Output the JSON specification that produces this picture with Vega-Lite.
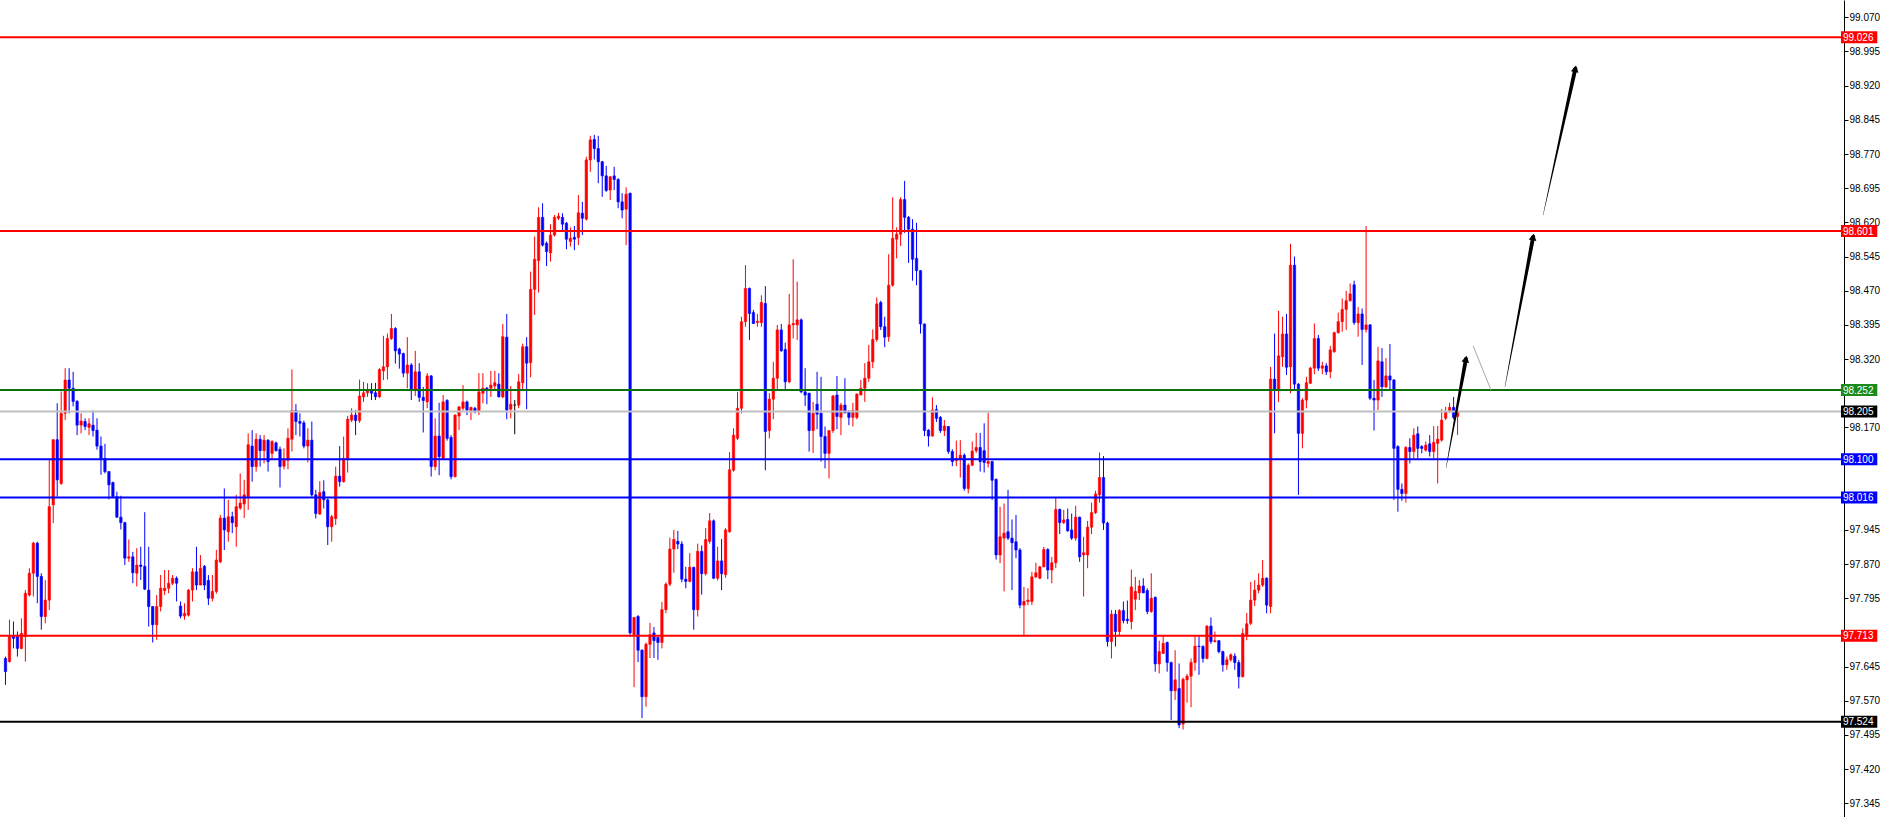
{
"$schema":"https://vega.github.io/schema/vega-lite/v6.json",
"width":1844,"height":817,
"autosize":{"type":"none"},
"padding":{"left":0,"top":0,"bottom":0,"right":38},
"background":"#ffffff",
"config":{"view":{"stroke":null},
 "axisY":{"orient":"right","title":null,"format":".3f","grid":false,"tickSize":4,"labelPadding":1,"labelFont":"Liberation Sans","labelFontSize":10,"labelColor":"#000000","tickColor":"#000000","domainColor":"#000000","domainWidth":1,"labelOverlap":false,"labelBound":false,"labelFlush":false,"zindex":0}},
"datasets":{
"candles":[
{"i":0,"o":97.663,"h":97.667,"l":97.605,"c":97.634},
{"i":1,"o":97.656,"h":97.748,"l":97.654,"c":97.711},
{"i":2,"o":97.711,"h":97.744,"l":97.685,"c":97.707},
{"i":3,"o":97.711,"h":97.722,"l":97.667,"c":97.685},
{"i":4,"o":97.685,"h":97.751,"l":97.683,"c":97.718},
{"i":5,"o":97.711,"h":97.813,"l":97.656,"c":97.806},
{"i":6,"o":97.802,"h":97.861,"l":97.799,"c":97.850},
{"i":7,"o":97.850,"h":97.919,"l":97.799,"c":97.916},
{"i":8,"o":97.916,"h":97.919,"l":97.784,"c":97.843},
{"i":9,"o":97.843,"h":97.850,"l":97.726,"c":97.755},
{"i":10,"o":97.755,"h":97.835,"l":97.740,"c":97.791},
{"i":11,"o":97.791,"h":98.099,"l":97.769,"c":97.996},
{"i":12,"o":98.000,"h":98.144,"l":97.960,"c":98.143},
{"i":13,"o":98.143,"h":98.223,"l":98.018,"c":98.055},
{"i":14,"o":98.047,"h":98.249,"l":98.044,"c":98.201},
{"i":15,"o":98.201,"h":98.300,"l":98.186,"c":98.274},
{"i":16,"o":98.274,"h":98.300,"l":98.201,"c":98.256},
{"i":17,"o":98.256,"h":98.292,"l":98.216,"c":98.227},
{"i":18,"o":98.227,"h":98.230,"l":98.153,"c":98.175},
{"i":19,"o":98.175,"h":98.201,"l":98.157,"c":98.184},
{"i":20,"o":98.183,"h":98.190,"l":98.164,"c":98.172},
{"i":21,"o":98.170,"h":98.190,"l":98.153,"c":98.178},
{"i":22,"o":98.175,"h":98.207,"l":98.150,"c":98.163},
{"i":23,"o":98.164,"h":98.190,"l":98.121,"c":98.129},
{"i":24,"o":98.129,"h":98.150,"l":98.066,"c":98.102},
{"i":25,"o":98.102,"h":98.134,"l":98.069,"c":98.073},
{"i":26,"o":98.073,"h":98.074,"l":98.012,"c":98.044},
{"i":27,"o":98.049,"h":98.051,"l":98.015,"c":98.018},
{"i":28,"o":98.018,"h":98.029,"l":97.971,"c":97.973},
{"i":29,"o":97.973,"h":98.020,"l":97.946,"c":97.961},
{"i":30,"o":97.961,"h":97.963,"l":97.868,"c":97.883},
{"i":31,"o":97.883,"h":97.924,"l":97.875,"c":97.886},
{"i":32,"o":97.886,"h":97.897,"l":97.828,"c":97.851},
{"i":33,"o":97.850,"h":97.905,"l":97.821,"c":97.868},
{"i":34,"o":97.868,"h":97.908,"l":97.835,"c":97.865},
{"i":35,"o":97.865,"h":97.984,"l":97.813,"c":97.815},
{"i":36,"o":97.813,"h":97.908,"l":97.733,"c":97.777},
{"i":37,"o":97.777,"h":97.777,"l":97.698,"c":97.737},
{"i":38,"o":97.737,"h":97.802,"l":97.704,"c":97.777},
{"i":39,"o":97.777,"h":97.846,"l":97.766,"c":97.817},
{"i":40,"o":97.812,"h":97.857,"l":97.802,"c":97.817},
{"i":41,"o":97.817,"h":97.857,"l":97.806,"c":97.828},
{"i":42,"o":97.828,"h":97.846,"l":97.824,"c":97.839},
{"i":43,"o":97.839,"h":97.843,"l":97.788,"c":97.828},
{"i":44,"o":97.778,"h":97.788,"l":97.751,"c":97.756},
{"i":45,"o":97.756,"h":97.784,"l":97.748,"c":97.762},
{"i":46,"o":97.758,"h":97.815,"l":97.755,"c":97.813},
{"i":47,"o":97.813,"h":97.861,"l":97.788,"c":97.853},
{"i":48,"o":97.853,"h":97.908,"l":97.813,"c":97.824},
{"i":49,"o":97.824,"h":97.890,"l":97.824,"c":97.861},
{"i":50,"o":97.865,"h":97.868,"l":97.813,"c":97.824},
{"i":51,"o":97.834,"h":97.846,"l":97.780,"c":97.795},
{"i":52,"o":97.795,"h":97.846,"l":97.788,"c":97.810},
{"i":53,"o":97.810,"h":97.901,"l":97.805,"c":97.879},
{"i":54,"o":97.875,"h":97.978,"l":97.872,"c":97.971},
{"i":55,"o":97.971,"h":98.036,"l":97.901,"c":97.945},
{"i":56,"o":97.941,"h":98.011,"l":97.919,"c":97.974},
{"i":57,"o":97.974,"h":97.985,"l":97.938,"c":97.961},
{"i":58,"o":97.952,"h":98.022,"l":97.908,"c":97.996},
{"i":59,"o":97.993,"h":98.069,"l":97.989,"c":98.004},
{"i":60,"o":98.002,"h":98.055,"l":97.971,"c":98.022},
{"i":61,"o":98.018,"h":98.157,"l":97.989,"c":98.132},
{"i":62,"o":98.129,"h":98.164,"l":98.051,"c":98.084},
{"i":63,"o":98.084,"h":98.157,"l":98.073,"c":98.144},
{"i":64,"o":98.144,"h":98.153,"l":98.084,"c":98.119},
{"i":65,"o":98.119,"h":98.153,"l":98.091,"c":98.142},
{"i":66,"o":98.142,"h":98.144,"l":98.073,"c":98.095},
{"i":67,"o":98.113,"h":98.142,"l":98.098,"c":98.139},
{"i":68,"o":98.136,"h":98.139,"l":98.117,"c":98.119},
{"i":69,"o":98.122,"h":98.128,"l":98.038,"c":98.084},
{"i":70,"o":98.085,"h":98.124,"l":98.078,"c":98.098},
{"i":71,"o":98.098,"h":98.168,"l":98.078,"c":98.146},
{"i":72,"o":98.144,"h":98.297,"l":98.117,"c":98.207},
{"i":73,"o":98.207,"h":98.221,"l":98.153,"c":98.183},
{"i":74,"o":98.183,"h":98.201,"l":98.150,"c":98.179},
{"i":75,"o":98.180,"h":98.185,"l":98.124,"c":98.129},
{"i":76,"o":98.129,"h":98.168,"l":98.093,"c":98.142},
{"i":77,"o":98.142,"h":98.183,"l":98.018,"c":98.022},
{"i":78,"o":98.022,"h":98.033,"l":97.970,"c":97.981},
{"i":79,"o":97.980,"h":98.052,"l":97.978,"c":98.027},
{"i":80,"o":98.029,"h":98.054,"l":97.992,"c":98.011},
{"i":81,"o":98.011,"h":98.014,"l":97.912,"c":97.952},
{"i":82,"o":97.952,"h":97.978,"l":97.919,"c":97.974},
{"i":83,"o":97.970,"h":98.084,"l":97.956,"c":98.063},
{"i":84,"o":98.063,"h":98.129,"l":98.040,"c":98.051},
{"i":85,"o":98.051,"h":98.150,"l":98.049,"c":98.102},
{"i":86,"o":98.102,"h":98.195,"l":98.071,"c":98.188},
{"i":87,"o":98.186,"h":98.212,"l":98.182,"c":98.197},
{"i":88,"o":98.197,"h":98.208,"l":98.153,"c":98.185},
{"i":89,"o":98.185,"h":98.275,"l":98.180,"c":98.239},
{"i":90,"o":98.237,"h":98.270,"l":98.226,"c":98.246},
{"i":91,"o":98.246,"h":98.267,"l":98.237,"c":98.250},
{"i":92,"o":98.252,"h":98.267,"l":98.230,"c":98.245},
{"i":93,"o":98.246,"h":98.268,"l":98.230,"c":98.237},
{"i":94,"o":98.237,"h":98.300,"l":98.235,"c":98.297},
{"i":95,"o":98.294,"h":98.371,"l":98.274,"c":98.303},
{"i":96,"o":98.303,"h":98.376,"l":98.275,"c":98.365},
{"i":97,"o":98.365,"h":98.419,"l":98.362,"c":98.387},
{"i":98,"o":98.387,"h":98.390,"l":98.310,"c":98.338},
{"i":99,"o":98.342,"h":98.345,"l":98.299,"c":98.331},
{"i":100,"o":98.332,"h":98.334,"l":98.280,"c":98.289},
{"i":101,"o":98.289,"h":98.368,"l":98.256,"c":98.307},
{"i":102,"o":98.307,"h":98.311,"l":98.230,"c":98.251},
{"i":103,"o":98.252,"h":98.338,"l":98.239,"c":98.292},
{"i":104,"o":98.292,"h":98.311,"l":98.226,"c":98.236},
{"i":105,"o":98.236,"h":98.259,"l":98.159,"c":98.229},
{"i":106,"o":98.226,"h":98.289,"l":98.212,"c":98.283},
{"i":107,"o":98.283,"h":98.285,"l":98.062,"c":98.084},
{"i":108,"o":98.084,"h":98.190,"l":98.076,"c":98.151},
{"i":109,"o":98.151,"h":98.224,"l":98.065,"c":98.106},
{"i":110,"o":98.102,"h":98.241,"l":98.100,"c":98.226},
{"i":111,"o":98.229,"h":98.232,"l":98.141,"c":98.146},
{"i":112,"o":98.148,"h":98.153,"l":98.056,"c":98.062},
{"i":113,"o":98.062,"h":98.199,"l":98.060,"c":98.197},
{"i":114,"o":98.195,"h":98.217,"l":98.164,"c":98.215},
{"i":115,"o":98.212,"h":98.263,"l":98.207,"c":98.226},
{"i":116,"o":98.226,"h":98.229,"l":98.197,"c":98.208},
{"i":117,"o":98.207,"h":98.215,"l":98.186,"c":98.214},
{"i":118,"o":98.212,"h":98.215,"l":98.201,"c":98.204},
{"i":119,"o":98.207,"h":98.289,"l":98.197,"c":98.248},
{"i":120,"o":98.245,"h":98.289,"l":98.223,"c":98.256},
{"i":121,"o":98.256,"h":98.259,"l":98.221,"c":98.252},
{"i":122,"o":98.256,"h":98.294,"l":98.237,"c":98.263},
{"i":123,"o":98.261,"h":98.294,"l":98.253,"c":98.268},
{"i":124,"o":98.265,"h":98.289,"l":98.236,"c":98.237},
{"i":125,"o":98.237,"h":98.397,"l":98.234,"c":98.369},
{"i":126,"o":98.368,"h":98.419,"l":98.188,"c":98.208},
{"i":127,"o":98.210,"h":98.261,"l":98.190,"c":98.221},
{"i":128,"o":98.219,"h":98.230,"l":98.155,"c":98.219},
{"i":129,"o":98.219,"h":98.287,"l":98.212,"c":98.270},
{"i":130,"o":98.268,"h":98.354,"l":98.252,"c":98.347},
{"i":131,"o":98.347,"h":98.368,"l":98.210,"c":98.311},
{"i":132,"o":98.312,"h":98.512,"l":98.280,"c":98.473},
{"i":133,"o":98.473,"h":98.589,"l":98.417,"c":98.539},
{"i":134,"o":98.536,"h":98.653,"l":98.466,"c":98.631},
{"i":135,"o":98.631,"h":98.662,"l":98.567,"c":98.570},
{"i":136,"o":98.574,"h":98.578,"l":98.524,"c":98.556},
{"i":137,"o":98.553,"h":98.616,"l":98.534,"c":98.592},
{"i":138,"o":98.592,"h":98.636,"l":98.589,"c":98.631},
{"i":139,"o":98.629,"h":98.641,"l":98.625,"c":98.634},
{"i":140,"o":98.631,"h":98.640,"l":98.600,"c":98.616},
{"i":141,"o":98.618,"h":98.621,"l":98.561,"c":98.583},
{"i":142,"o":98.578,"h":98.609,"l":98.567,"c":98.585},
{"i":143,"o":98.587,"h":98.612,"l":98.559,"c":98.583},
{"i":144,"o":98.587,"h":98.680,"l":98.570,"c":98.641},
{"i":145,"o":98.640,"h":98.665,"l":98.592,"c":98.629},
{"i":146,"o":98.627,"h":98.764,"l":98.624,"c":98.757},
{"i":147,"o":98.757,"h":98.810,"l":98.731,"c":98.801},
{"i":148,"o":98.802,"h":98.812,"l":98.758,"c":98.782},
{"i":149,"o":98.782,"h":98.810,"l":98.706,"c":98.753},
{"i":150,"o":98.753,"h":98.755,"l":98.676,"c":98.722},
{"i":151,"o":98.722,"h":98.744,"l":98.687,"c":98.690},
{"i":152,"o":98.691,"h":98.722,"l":98.669,"c":98.720},
{"i":153,"o":98.722,"h":98.742,"l":98.691,"c":98.714},
{"i":154,"o":98.714,"h":98.717,"l":98.651,"c":98.665},
{"i":155,"o":98.665,"h":98.684,"l":98.629,"c":98.647},
{"i":156,"o":98.649,"h":98.697,"l":98.570,"c":98.682},
{"i":157,"o":98.684,"h":98.685,"l":97.710,"c":97.719},
{"i":158,"o":97.715,"h":97.753,"l":97.600,"c":97.753},
{"i":159,"o":97.755,"h":97.758,"l":97.655,"c":97.681},
{"i":160,"o":97.681,"h":97.683,"l":97.532,"c":97.579},
{"i":161,"o":97.579,"h":97.698,"l":97.557,"c":97.694},
{"i":162,"o":97.694,"h":97.741,"l":97.664,"c":97.715},
{"i":163,"o":97.719,"h":97.732,"l":97.664,"c":97.702},
{"i":164,"o":97.709,"h":97.711,"l":97.660,"c":97.698},
{"i":165,"o":97.698,"h":97.787,"l":97.685,"c":97.770},
{"i":166,"o":97.770,"h":97.830,"l":97.762,"c":97.826},
{"i":167,"o":97.826,"h":97.928,"l":97.822,"c":97.903},
{"i":168,"o":97.903,"h":97.945,"l":97.851,"c":97.924},
{"i":169,"o":97.920,"h":97.943,"l":97.903,"c":97.914},
{"i":170,"o":97.914,"h":97.920,"l":97.830,"c":97.837},
{"i":171,"o":97.837,"h":97.864,"l":97.817,"c":97.832},
{"i":172,"o":97.832,"h":97.894,"l":97.830,"c":97.863},
{"i":173,"o":97.863,"h":97.864,"l":97.726,"c":97.770},
{"i":174,"o":97.770,"h":97.915,"l":97.755,"c":97.898},
{"i":175,"o":97.898,"h":97.911,"l":97.803,"c":97.849},
{"i":176,"o":97.849,"h":97.949,"l":97.845,"c":97.924},
{"i":177,"o":97.920,"h":97.982,"l":97.915,"c":97.965},
{"i":178,"o":97.965,"h":97.968,"l":97.837,"c":97.839},
{"i":179,"o":97.839,"h":97.908,"l":97.834,"c":97.877},
{"i":180,"o":97.877,"h":97.925,"l":97.813,"c":97.849},
{"i":181,"o":97.847,"h":97.949,"l":97.840,"c":97.945},
{"i":182,"o":97.941,"h":98.116,"l":97.939,"c":98.077},
{"i":183,"o":98.076,"h":98.168,"l":98.073,"c":98.153},
{"i":184,"o":98.146,"h":98.248,"l":98.142,"c":98.212},
{"i":185,"o":98.212,"h":98.413,"l":98.201,"c":98.402},
{"i":186,"o":98.402,"h":98.526,"l":98.391,"c":98.475},
{"i":187,"o":98.475,"h":98.477,"l":98.362,"c":98.420},
{"i":188,"o":98.422,"h":98.428,"l":98.397,"c":98.398},
{"i":189,"o":98.400,"h":98.419,"l":98.391,"c":98.403},
{"i":190,"o":98.400,"h":98.460,"l":98.391,"c":98.444},
{"i":191,"o":98.442,"h":98.480,"l":98.076,"c":98.161},
{"i":192,"o":98.163,"h":98.245,"l":98.146,"c":98.232},
{"i":193,"o":98.232,"h":98.314,"l":98.188,"c":98.278},
{"i":194,"o":98.278,"h":98.395,"l":98.252,"c":98.384},
{"i":195,"o":98.384,"h":98.397,"l":98.336,"c":98.338},
{"i":196,"o":98.341,"h":98.356,"l":98.252,"c":98.270},
{"i":197,"o":98.270,"h":98.463,"l":98.267,"c":98.395},
{"i":198,"o":98.395,"h":98.539,"l":98.365,"c":98.398},
{"i":199,"o":98.395,"h":98.490,"l":98.362,"c":98.406},
{"i":200,"o":98.406,"h":98.409,"l":98.245,"c":98.248},
{"i":201,"o":98.248,"h":98.300,"l":98.217,"c":98.241},
{"i":202,"o":98.245,"h":98.246,"l":98.117,"c":98.163},
{"i":203,"o":98.163,"h":98.226,"l":98.114,"c":98.201},
{"i":204,"o":98.221,"h":98.292,"l":98.166,"c":98.199},
{"i":205,"o":98.201,"h":98.281,"l":98.095,"c":98.150},
{"i":206,"o":98.150,"h":98.172,"l":98.080,"c":98.113},
{"i":207,"o":98.113,"h":98.164,"l":98.058,"c":98.163},
{"i":208,"o":98.163,"h":98.241,"l":98.158,"c":98.239},
{"i":209,"o":98.241,"h":98.283,"l":98.166,"c":98.194},
{"i":210,"o":98.192,"h":98.224,"l":98.153,"c":98.219},
{"i":211,"o":98.219,"h":98.278,"l":98.201,"c":98.202},
{"i":212,"o":98.204,"h":98.208,"l":98.175,"c":98.192},
{"i":213,"o":98.192,"h":98.224,"l":98.172,"c":98.207},
{"i":214,"o":98.192,"h":98.245,"l":98.188,"c":98.243},
{"i":215,"o":98.241,"h":98.274,"l":98.241,"c":98.256},
{"i":216,"o":98.256,"h":98.311,"l":98.226,"c":98.278},
{"i":217,"o":98.278,"h":98.351,"l":98.270,"c":98.314},
{"i":218,"o":98.314,"h":98.385,"l":98.300,"c":98.363},
{"i":219,"o":98.363,"h":98.455,"l":98.358,"c":98.441},
{"i":220,"o":98.444,"h":98.448,"l":98.384,"c":98.391},
{"i":221,"o":98.391,"h":98.413,"l":98.346,"c":98.368},
{"i":222,"o":98.369,"h":98.550,"l":98.358,"c":98.482},
{"i":223,"o":98.482,"h":98.675,"l":98.479,"c":98.585},
{"i":224,"o":98.583,"h":98.609,"l":98.541,"c":98.594},
{"i":225,"o":98.594,"h":98.675,"l":98.568,"c":98.670},
{"i":226,"o":98.670,"h":98.711,"l":98.597,"c":98.631},
{"i":227,"o":98.631,"h":98.634,"l":98.531,"c":98.605},
{"i":228,"o":98.605,"h":98.627,"l":98.492,"c":98.539},
{"i":229,"o":98.541,"h":98.619,"l":98.482,"c":98.514},
{"i":230,"o":98.514,"h":98.515,"l":98.376,"c":98.397},
{"i":231,"o":98.397,"h":98.398,"l":98.151,"c":98.163},
{"i":232,"o":98.164,"h":98.166,"l":98.128,"c":98.151},
{"i":233,"o":98.151,"h":98.236,"l":98.150,"c":98.208},
{"i":234,"o":98.209,"h":98.219,"l":98.182,"c":98.190},
{"i":235,"o":98.192,"h":98.195,"l":98.158,"c":98.163},
{"i":236,"o":98.163,"h":98.186,"l":98.151,"c":98.173},
{"i":237,"o":98.172,"h":98.173,"l":98.112,"c":98.117},
{"i":238,"o":98.117,"h":98.122,"l":98.085,"c":98.095},
{"i":239,"o":98.097,"h":98.141,"l":98.085,"c":98.102},
{"i":240,"o":98.101,"h":98.142,"l":98.060,"c":98.109},
{"i":241,"o":98.109,"h":98.113,"l":98.031,"c":98.036},
{"i":242,"o":98.036,"h":98.091,"l":98.025,"c":98.087},
{"i":243,"o":98.087,"h":98.139,"l":98.085,"c":98.118},
{"i":244,"o":98.119,"h":98.158,"l":98.114,"c":98.126},
{"i":245,"o":98.126,"h":98.158,"l":98.073,"c":98.095},
{"i":246,"o":98.119,"h":98.179,"l":98.071,"c":98.093},
{"i":247,"o":98.091,"h":98.202,"l":98.082,"c":98.095},
{"i":248,"o":98.095,"h":98.097,"l":98.011,"c":98.054},
{"i":249,"o":98.056,"h":98.058,"l":97.880,"c":97.890},
{"i":250,"o":97.890,"h":97.996,"l":97.872,"c":97.930},
{"i":251,"o":97.927,"h":98.003,"l":97.810,"c":97.938},
{"i":252,"o":97.941,"h":98.033,"l":97.923,"c":97.927},
{"i":253,"o":97.927,"h":97.968,"l":97.813,"c":97.917},
{"i":254,"o":97.919,"h":97.978,"l":97.883,"c":97.901},
{"i":255,"o":97.901,"h":97.905,"l":97.773,"c":97.780},
{"i":256,"o":97.780,"h":97.820,"l":97.711,"c":97.788},
{"i":257,"o":97.788,"h":97.817,"l":97.780,"c":97.791},
{"i":258,"o":97.788,"h":97.853,"l":97.780,"c":97.842},
{"i":259,"o":97.842,"h":97.873,"l":97.839,"c":97.851},
{"i":260,"o":97.839,"h":97.866,"l":97.837,"c":97.864},
{"i":261,"o":97.864,"h":97.908,"l":97.863,"c":97.902},
{"i":262,"o":97.902,"h":97.905,"l":97.837,"c":97.857},
{"i":263,"o":97.857,"h":97.886,"l":97.828,"c":97.873},
{"i":264,"o":97.873,"h":98.017,"l":97.861,"c":97.990},
{"i":265,"o":97.990,"h":97.992,"l":97.936,"c":97.961},
{"i":266,"o":97.961,"h":97.989,"l":97.958,"c":97.967},
{"i":267,"o":97.968,"h":97.992,"l":97.941,"c":97.943},
{"i":268,"o":97.945,"h":97.981,"l":97.923,"c":97.927},
{"i":269,"o":97.927,"h":97.998,"l":97.921,"c":97.973},
{"i":270,"o":97.973,"h":97.974,"l":97.875,"c":97.886},
{"i":271,"o":97.890,"h":97.930,"l":97.799,"c":97.895},
{"i":272,"o":97.890,"h":97.965,"l":97.861,"c":97.951},
{"i":273,"o":97.951,"h":98.005,"l":97.936,"c":97.983},
{"i":274,"o":97.983,"h":98.031,"l":97.980,"c":98.024},
{"i":275,"o":98.022,"h":98.115,"l":98.005,"c":98.060},
{"i":276,"o":98.060,"h":98.107,"l":97.945,"c":97.960},
{"i":277,"o":97.960,"h":97.963,"l":97.689,"c":97.700},
{"i":278,"o":97.700,"h":97.769,"l":97.663,"c":97.760},
{"i":279,"o":97.760,"h":97.769,"l":97.689,"c":97.722},
{"i":280,"o":97.722,"h":97.771,"l":97.714,"c":97.768},
{"i":281,"o":97.768,"h":97.788,"l":97.740,"c":97.746},
{"i":282,"o":97.749,"h":97.790,"l":97.739,"c":97.746},
{"i":283,"o":97.744,"h":97.858,"l":97.727,"c":97.820},
{"i":284,"o":97.793,"h":97.842,"l":97.769,"c":97.810},
{"i":285,"o":97.807,"h":97.835,"l":97.791,"c":97.822},
{"i":286,"o":97.822,"h":97.839,"l":97.806,"c":97.807},
{"i":287,"o":97.812,"h":97.817,"l":97.760,"c":97.766},
{"i":288,"o":97.766,"h":97.850,"l":97.763,"c":97.795},
{"i":289,"o":97.797,"h":97.799,"l":97.634,"c":97.651},
{"i":290,"o":97.651,"h":97.702,"l":97.630,"c":97.678},
{"i":291,"o":97.674,"h":97.712,"l":97.673,"c":97.696},
{"i":292,"o":97.698,"h":97.700,"l":97.634,"c":97.654},
{"i":293,"o":97.654,"h":97.656,"l":97.528,"c":97.592},
{"i":294,"o":97.592,"h":97.681,"l":97.572,"c":97.616},
{"i":295,"o":97.597,"h":97.652,"l":97.510,"c":97.517},
{"i":296,"o":97.519,"h":97.621,"l":97.507,"c":97.617},
{"i":297,"o":97.616,"h":97.629,"l":97.566,"c":97.624},
{"i":298,"o":97.624,"h":97.663,"l":97.556,"c":97.654},
{"i":299,"o":97.654,"h":97.712,"l":97.636,"c":97.690},
{"i":300,"o":97.690,"h":97.712,"l":97.627,"c":97.689},
{"i":301,"o":97.689,"h":97.692,"l":97.654,"c":97.663},
{"i":302,"o":97.663,"h":97.736,"l":97.661,"c":97.734},
{"i":303,"o":97.734,"h":97.753,"l":97.695,"c":97.700},
{"i":304,"o":97.700,"h":97.722,"l":97.698,"c":97.702},
{"i":305,"o":97.702,"h":97.703,"l":97.674,"c":97.678},
{"i":306,"o":97.678,"h":97.680,"l":97.634,"c":97.649},
{"i":307,"o":97.649,"h":97.667,"l":97.638,"c":97.660},
{"i":308,"o":97.660,"h":97.674,"l":97.656,"c":97.671},
{"i":309,"o":97.668,"h":97.674,"l":97.638,"c":97.654},
{"i":310,"o":97.654,"h":97.660,"l":97.597,"c":97.623},
{"i":311,"o":97.623,"h":97.729,"l":97.621,"c":97.718},
{"i":312,"o":97.714,"h":97.763,"l":97.703,"c":97.739},
{"i":313,"o":97.740,"h":97.831,"l":97.736,"c":97.791},
{"i":314,"o":97.791,"h":97.835,"l":97.778,"c":97.813},
{"i":315,"o":97.813,"h":97.850,"l":97.806,"c":97.824},
{"i":316,"o":97.824,"h":97.879,"l":97.820,"c":97.839},
{"i":317,"o":97.839,"h":97.841,"l":97.762,"c":97.780},
{"i":318,"o":97.777,"h":98.303,"l":97.762,"c":98.276},
{"i":319,"o":98.276,"h":98.376,"l":98.157,"c":98.252},
{"i":320,"o":98.252,"h":98.426,"l":98.226,"c":98.327},
{"i":321,"o":98.325,"h":98.413,"l":98.303,"c":98.375},
{"i":322,"o":98.375,"h":98.419,"l":98.285,"c":98.302},
{"i":323,"o":98.303,"h":98.573,"l":98.245,"c":98.526},
{"i":324,"o":98.526,"h":98.545,"l":98.252,"c":98.265},
{"i":325,"o":98.265,"h":98.267,"l":98.022,"c":98.157},
{"i":326,"o":98.157,"h":98.234,"l":98.124,"c":98.230},
{"i":327,"o":98.230,"h":98.281,"l":98.212,"c":98.268},
{"i":328,"o":98.267,"h":98.303,"l":98.265,"c":98.300},
{"i":329,"o":98.300,"h":98.398,"l":98.287,"c":98.365},
{"i":330,"o":98.365,"h":98.373,"l":98.294,"c":98.300},
{"i":331,"o":98.300,"h":98.314,"l":98.287,"c":98.305},
{"i":332,"o":98.305,"h":98.311,"l":98.285,"c":98.292},
{"i":333,"o":98.292,"h":98.349,"l":98.278,"c":98.340},
{"i":334,"o":98.336,"h":98.380,"l":98.334,"c":98.378},
{"i":335,"o":98.378,"h":98.422,"l":98.376,"c":98.402},
{"i":336,"o":98.402,"h":98.453,"l":98.380,"c":98.429},
{"i":337,"o":98.429,"h":98.470,"l":98.384,"c":98.448},
{"i":338,"o":98.448,"h":98.486,"l":98.446,"c":98.463},
{"i":339,"o":98.483,"h":98.492,"l":98.395,"c":98.400},
{"i":340,"o":98.400,"h":98.434,"l":98.369,"c":98.419},
{"i":341,"o":98.419,"h":98.431,"l":98.307,"c":98.385},
{"i":342,"o":98.385,"h":98.612,"l":98.378,"c":98.395},
{"i":343,"o":98.395,"h":98.397,"l":98.230,"c":98.234},
{"i":344,"o":98.234,"h":98.274,"l":98.163,"c":98.230},
{"i":345,"o":98.230,"h":98.347,"l":98.208,"c":98.316},
{"i":346,"o":98.314,"h":98.344,"l":98.237,"c":98.259},
{"i":347,"o":98.259,"h":98.322,"l":98.256,"c":98.283},
{"i":348,"o":98.283,"h":98.353,"l":98.254,"c":98.274},
{"i":349,"o":98.274,"h":98.276,"l":98.011,"c":98.124},
{"i":350,"o":98.128,"h":98.131,"l":97.985,"c":98.034},
{"i":351,"o":98.034,"h":98.047,"l":98.009,"c":98.025},
{"i":352,"o":98.025,"h":98.129,"l":98.005,"c":98.126},
{"i":353,"o":98.126,"h":98.146,"l":98.091,"c":98.117},
{"i":354,"o":98.117,"h":98.168,"l":98.102,"c":98.153},
{"i":355,"o":98.156,"h":98.172,"l":98.102,"c":98.124},
{"i":356,"o":98.128,"h":98.131,"l":98.113,"c":98.124},
{"i":357,"o":98.120,"h":98.139,"l":98.117,"c":98.131},
{"i":358,"o":98.134,"h":98.153,"l":98.106,"c":98.117},
{"i":359,"o":98.117,"h":98.173,"l":98.102,"c":98.137},
{"i":360,"o":98.135,"h":98.173,"l":98.047,"c":98.144},
{"i":361,"o":98.142,"h":98.210,"l":98.139,"c":98.186},
{"i":362,"o":98.190,"h":98.215,"l":98.186,"c":98.205},
{"i":363,"o":98.205,"h":98.224,"l":98.202,"c":98.214},
{"i":364,"o":98.214,"h":98.237,"l":98.188,"c":98.192},
{"i":365,"o":98.194,"h":98.212,"l":98.153,"c":98.205}
],
"levels":[
{"p":99.026,"kind":"resistance"},
{"p":98.601,"kind":"resistance"},
{"p":98.252,"kind":"pivot"},
{"p":98.205,"kind":"bid"},
{"p":98.100,"kind":"support"},
{"p":98.016,"kind":"support"},
{"p":97.713,"kind":"resistance"},
{"p":97.524,"kind":"low"}
],
"arrows":[
{"a":1,"n":362.1,"p":98.081,"w":0},{"a":1,"n":367.1,"p":98.320,"w":1},
{"a":2,"n":376.9,"p":98.259,"w":0},{"a":2,"n":384.0,"p":98.588,"w":1},
{"a":3,"n":386.5,"p":98.636,"w":0},{"a":3,"n":394.6,"p":98.957,"w":1}
],
"zig":[{"n":368.9,"p":98.349},{"n":373.4,"p":98.252}]
},
"layer":[
{"data":{"name":"candles"},
 "mark":{"type":"rule","strokeWidth":1},
 "encoding":{
  "x":{"field":"i","type":"quantitative","scale":{"domain":[-0.125,460.875],"nice":false,"zero":false},"axis":null},
  "y":{"field":"l","type":"quantitative","title":null,"scale":{"domain":[97.315,99.108],"nice":false,"zero":false},
   "axis":{"orient":"right","title":null,"zindex":0,"values":[97.345,97.42,97.495,97.57,97.645,97.795,97.87,97.945,98.17,98.32,98.395,98.47,98.545,98.62,98.695,98.77,98.845,98.92,98.995,99.07],"format":".3f"}},
  "y2":{"field":"h"},
  "color":{"condition":[{"test":"datum.c > datum.o","value":"#ff0000"},{"test":"datum.c == datum.o","value":"#000000"}],"value":"#0000ff"}
 }},
{"data":{"name":"candles"},
 "mark":{"type":"bar","width":2.4,"strokeWidth":0.6},
 "encoding":{
  "x":{"field":"i","type":"quantitative","scale":{"domain":[-0.125,460.875],"nice":false,"zero":false},"axis":null},
  "y":{"field":"o","type":"quantitative","title":null,"scale":{"domain":[97.315,99.108],"nice":false,"zero":false},
   "axis":{"orient":"right","title":null,"zindex":0,"values":[97.345,97.42,97.495,97.57,97.645,97.795,97.87,97.945,98.17,98.32,98.395,98.47,98.545,98.62,98.695,98.77,98.845,98.92,98.995,99.07],"format":".3f"}},
  "y2":{"field":"c"},
  "fill":{"condition":[{"test":"datum.c > datum.o","value":"#ff0000"},{"test":"datum.c == datum.o","value":"#000000"}],"value":"#0000ff"},
  "stroke":{"condition":[{"test":"datum.c > datum.o","value":"#ff0000"},{"test":"datum.c == datum.o","value":"#000000"}],"value":"#0000ff"}
 }},
{"data":{"name":"levels"},
 "mark":{"type":"rule"},
 "encoding":{
  "y":{"field":"p","type":"quantitative","title":null,"scale":{"domain":[97.315,99.108],"nice":false,"zero":false},
   "axis":{"orient":"right","title":null,"zindex":0,"values":[97.345,97.42,97.495,97.57,97.645,97.795,97.87,97.945,98.17,98.32,98.395,98.47,98.545,98.62,98.695,98.77,98.845,98.92,98.995,99.07],"format":".3f"}},
  "color":{"field":"kind","type":"nominal","scale":{"domain":["resistance","pivot","support","bid","low"],"range":["#ff0000","#0a700a","#0000ff","#c0c0c0","#000000"]},"legend":null},
  "strokeWidth":{"field":"kind","type":"nominal","scale":{"domain":["resistance","pivot","support","bid","low"],"range":[2,2,2,1,2]},"legend":null}
 }},
{"data":{"name":"zig"},
 "mark":{"type":"line","color":"#a8a8a8","strokeWidth":1},
 "encoding":{
  "x":{"field":"n","type":"quantitative","scale":{"domain":[-0.125,460.875],"nice":false,"zero":false},"axis":null},
  "y":{"field":"p","type":"quantitative","title":null,"scale":{"domain":[97.315,99.108],"nice":false,"zero":false},
   "axis":{"orient":"right","title":null,"zindex":0,"values":[97.345,97.42,97.495,97.57,97.645,97.795,97.87,97.945,98.17,98.32,98.395,98.47,98.545,98.62,98.695,98.77,98.845,98.92,98.995,99.07],"format":".3f"}}
 }},
{"data":{"name":"arrows"},
 "mark":{"type":"trail","color":"#000000"},
 "encoding":{
  "x":{"field":"n","type":"quantitative","scale":{"domain":[-0.125,460.875],"nice":false,"zero":false},"axis":null},
  "y":{"field":"p","type":"quantitative","title":null,"scale":{"domain":[97.315,99.108],"nice":false,"zero":false},
   "axis":{"orient":"right","title":null,"zindex":0,"values":[97.345,97.42,97.495,97.57,97.645,97.795,97.87,97.945,98.17,98.32,98.395,98.47,98.545,98.62,98.695,98.77,98.845,98.92,98.995,99.07],"format":".3f"}},
  "detail":{"field":"a","type":"nominal"},
  "order":{"field":"w","type":"quantitative"},
  "size":{"field":"w","type":"quantitative","scale":{"domain":[0,1],"range":[0.3,4]},"legend":null}
 }},
{"data":{"name":"arrows"},
 "transform":[{"filter":"datum.w == 1"}],
 "mark":{"type":"point","shape":"triangle-up","filled":true,"size":60,"angle":11,"color":"#000000","opacity":1},
 "encoding":{
  "x":{"field":"n","type":"quantitative","scale":{"domain":[-0.125,460.875],"nice":false,"zero":false},"axis":null},
  "y":{"field":"p","type":"quantitative","title":null,"scale":{"domain":[97.315,99.108],"nice":false,"zero":false},
   "axis":{"orient":"right","title":null,"zindex":0,"values":[97.345,97.42,97.495,97.57,97.645,97.795,97.87,97.945,98.17,98.32,98.395,98.47,98.545,98.62,98.695,98.77,98.845,98.92,98.995,99.07],"format":".3f"}}
 }},
{"data":{"name":"levels"},
 "mark":{"type":"rect","yOffset":-6,"y2Offset":6},
 "encoding":{
  "x":{"datum":461.375,"type":"quantitative","scale":{"domain":[-0.125,460.875],"nice":false,"zero":false},"axis":null},
  "x2":{"datum":470.5},
  "y":{"field":"p","type":"quantitative","title":null,"scale":{"domain":[97.315,99.108],"nice":false,"zero":false},
   "axis":{"orient":"right","title":null,"zindex":0,"values":[97.345,97.42,97.495,97.57,97.645,97.795,97.87,97.945,98.17,98.32,98.395,98.47,98.545,98.62,98.695,98.77,98.845,98.92,98.995,99.07],"format":".3f"}},
  "y2":{"field":"p"},
  "fill":{"field":"kind","type":"nominal","scale":{"domain":["resistance","pivot","support","bid","low"],"range":["#ff0000","#1a8a1a","#0000ff","#000000","#000000"]},"legend":null}
 }},
{"data":{"name":"levels"},
 "mark":{"type":"text","align":"center","baseline":"middle","font":"Liberation Sans","fontSize":10,"color":"#ffffff","dy":0.5},
 "encoding":{
  "x":{"datum":465.7,"type":"quantitative","scale":{"domain":[-0.125,460.875],"nice":false,"zero":false},"axis":null},
  "y":{"field":"p","type":"quantitative","title":null,"scale":{"domain":[97.315,99.108],"nice":false,"zero":false},
   "axis":{"orient":"right","title":null,"zindex":0,"values":[97.345,97.42,97.495,97.57,97.645,97.795,97.87,97.945,98.17,98.32,98.395,98.47,98.545,98.62,98.695,98.77,98.845,98.92,98.995,99.07],"format":".3f"}},
  "text":{"field":"p","type":"quantitative","format":".3f"}
 }}
]
}
